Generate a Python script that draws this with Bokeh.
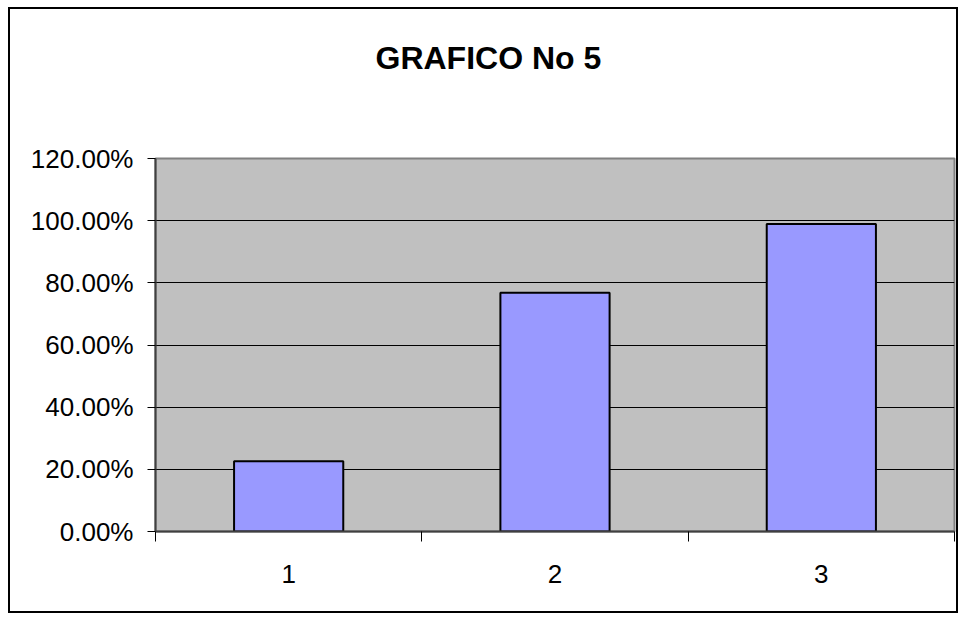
from bokeh.plotting import figure
from bokeh.models import FixedTicker, NumeralTickFormatter, Range1d, Title
from bokeh.embed import file_html
from bokeh.resources import INLINE

categories = [1, 2, 3]
category_labels = ["1", "2", "3"]
values = [0.226, 0.768, 0.989]
y_ticks = [0.0, 0.2, 0.4, 0.6, 0.8, 1.0, 1.2]
title_text = "GRAFICO No 5"

FONT = "Liberation Sans"

p = figure(width=950, height=606, output_backend="svg", toolbar_location=None,
           x_range=Range1d(0.5, 3.5), y_range=Range1d(0, 1.2),
           min_border_left=145, min_border_top=149, min_border_right=6,
           min_border_bottom=84)
p.styles = {"border": "2px solid black", "margin-left": "8px", "margin-top": "7px"}

p.background_fill_color = "#C0C0C0"
p.border_fill_color = "white"
p.outline_line_color = "#808080"
p.outline_line_width = 2

p.vbar(x=categories, top=values, width=0.41, bottom=0,
       fill_color="#9999FF", line_color="black", line_width=2)

# grids
p.xgrid.visible = False
p.ygrid.ticker = FixedTicker(ticks=y_ticks)
p.ygrid.grid_line_color = "black"
p.ygrid.grid_line_width = 1

# y axis
p.yaxis.ticker = FixedTicker(ticks=y_ticks)
p.yaxis.formatter = NumeralTickFormatter(format="0.00%")
p.yaxis.axis_line_color = "#404040"
p.yaxis.axis_line_width = 2
p.yaxis.major_tick_line_color = "black"
p.yaxis.major_tick_in = 0
p.yaxis.major_tick_out = 8
p.yaxis.minor_tick_line_color = None
p.yaxis.major_label_standoff = 14
p.yaxis.major_label_text_font = FONT
p.yaxis.major_label_text_font_size = "26px"
p.yaxis.major_label_text_color = "black"

# x axis
p.xaxis.ticker = FixedTicker(ticks=categories, minor_ticks=[0.5, 1.5, 2.5, 3.5])
p.xaxis.major_label_overrides = {c: l for c, l in zip(categories, category_labels)}
p.xaxis.axis_line_color = "#404040"
p.xaxis.axis_line_width = 2
p.xaxis.major_tick_in = 0
p.xaxis.major_tick_out = 0
p.xaxis.minor_tick_in = 0
p.xaxis.minor_tick_out = 10
p.xaxis.minor_tick_line_color = "black"
p.xaxis.major_label_standoff = 23
p.xaxis.major_label_text_font = FONT
p.xaxis.major_label_text_font_size = "26px"
p.xaxis.major_label_text_color = "black"

# spacer panel next to the frame, the real title sits above it
spacer = Title(text=" ", standoff=49, text_font_size="1px", text_color="white")
p.add_layout(spacer, "above")

p.title.text = title_text
p.title.align = "left"
p.title.offset = 220
p.title.standoff = 58
p.title.vertical_align = "top"
p.title.text_font = FONT
p.title.text_font_size = "32px"
p.title.text_font_style = "bold"
p.title.text_color = "black"

open("out.html", "w").write(file_html(p, INLINE))
